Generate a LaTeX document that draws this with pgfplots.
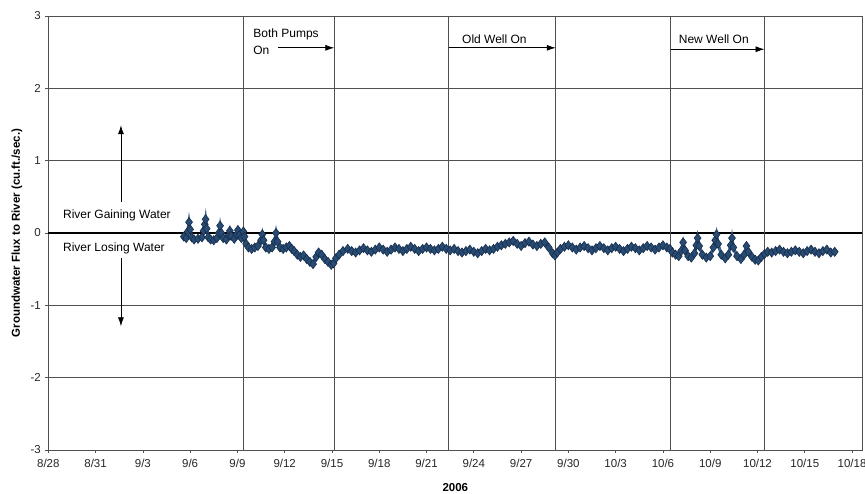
\documentclass[border=0pt]{standalone}
\usepackage{pgfplots}
\pgfplotsset{compat=1.18}
\usepackage{fontspec}
\setmainfont{Liberation Sans}
\usetikzlibrary{arrows.meta}
\definecolor{serfill}{RGB}{40,75,115}
\definecolor{serdraw}{RGB}{22,45,75}
\definecolor{serline}{RGB}{60,95,145}
\definecolor{gridc}{RGB}{80,80,80}
\begin{document}
\begin{tikzpicture}
\path[use as bounding box] (-48.3pt,-44pt) rectangle (816.7pt,450pt);
\begin{axis}[
  at={(0,0)}, anchor=south west,
  scale only axis, width=814pt, height=434pt,
  xmin=0, xmax=51.65, ymin=-3, ymax=3,
  xtick={0,3,...,51},
  xticklabels={8/28,8/31,9/3,9/6,9/9,9/12,9/15,9/18,9/21,9/24,9/27,9/30,10/3,10/6,10/9,10/12,10/15,10/18},
  ytick={-3,-2,-1,1,2,3},
  extra y ticks={0},
  extra y tick style={grid style={black, line width=1.8pt}},
  ymajorgrids, grid style={gridc, line width=0.8pt},
  axis line style={gridc, line width=0.8pt},
  tick style={gridc, line width=0.7pt},
  tick align=outside, major tick length=3pt,
  xtick pos=bottom, ytick pos=left,
  /pgf/number format/assume math mode=true,
  ticklabel style={font=\fontsize{11.5}{13}\selectfont, text=black!85},
  xticklabel style={yshift=-3pt},
  yticklabel style={xshift=-1pt},
  xlabel={2006}, ylabel={Groundwater Flux to River (cu.ft./sec.)},
  xlabel style={font=\bfseries\fontsize{11.5}{13}\selectfont, at={(axis description cs:0.5,-0.0876)}, anchor=center},
  ylabel style={font=\bfseries\fontsize{11.5}{13}\selectfont, at={(axis description cs:-0.0385,0.5)}, anchor=center, rotate=0},
  clip=false,
]
\addplot[color=serline, line width=3pt, mark=diamond*, mark size=4.6pt,
  mark options={fill=serfill, draw=serdraw, line width=0.6pt}] table {
x y
8.6 -0.05
8.75 -0.07
8.85 0.02
8.93 0.15
9.0 0.05
9.1 -0.06
9.25 -0.09
9.5 -0.08
9.75 -0.06
9.85 0.03
9.93 0.12
9.98 0.19
10.05 0.06
10.15 -0.06
10.3 -0.09
10.5 -0.10
10.7 -0.07
10.82 0.0
10.9 0.1
10.98 0.0
11.1 -0.07
11.3 -0.09
11.45 -0.03
11.52 0.03
11.6 -0.04
11.8 -0.08
11.95 -0.02
12.03 0.04
12.12 -0.03
12.25 -0.07
12.38 0.02
12.45 -0.05
12.55 -0.15
12.7 -0.2
12.9 -0.22
13.1 -0.2
13.3 -0.18
13.5 -0.1
13.58 -0.02
13.66 -0.1
13.8 -0.2
14.0 -0.22
14.2 -0.2
14.35 -0.12
14.45 0.0
14.55 -0.12
14.7 -0.2
14.9 -0.22
15.1 -0.2
15.3 -0.18
15.45 -0.22
15.6 -0.25
15.8 -0.3
16.0 -0.33
16.2 -0.31
16.4 -0.36
16.6 -0.40
16.8 -0.43
17.0 -0.33
17.15 -0.27
17.35 -0.3
17.55 -0.36
17.75 -0.40
17.95 -0.44
18.1 -0.42
18.25 -0.35
18.45 -0.3
18.7 -0.25
19.0 -0.22
19.25 -0.25
19.5 -0.27
19.75 -0.24
20.0 -0.21
20.25 -0.24
20.5 -0.26
20.75 -0.23
21.0 -0.20
21.25 -0.23
21.5 -0.26
21.75 -0.23
22.0 -0.20
22.25 -0.22
22.5 -0.25
22.75 -0.22
23.0 -0.19
23.25 -0.22
23.5 -0.25
23.75 -0.22
24.0 -0.20
24.25 -0.22
24.5 -0.24
24.75 -0.22
25.0 -0.19
25.25 -0.22
25.5 -0.24
25.75 -0.22
26.0 -0.25
26.25 -0.27
26.5 -0.25
26.75 -0.23
27.0 -0.26
27.25 -0.28
27.5 -0.25
27.75 -0.22
28.0 -0.24
28.25 -0.22
28.5 -0.19
28.75 -0.17
29.0 -0.15
29.25 -0.13
29.5 -0.11
29.75 -0.15
30.0 -0.18
30.25 -0.14
30.5 -0.12
30.75 -0.16
31.0 -0.18
31.25 -0.15
31.5 -0.13
31.75 -0.2
32.0 -0.28
32.15 -0.31
32.3 -0.27
32.5 -0.22
32.75 -0.19
33.0 -0.17
33.25 -0.2
33.5 -0.23
33.75 -0.2
34.0 -0.18
34.25 -0.21
34.5 -0.24
34.75 -0.21
35.0 -0.18
35.25 -0.21
35.5 -0.24
35.75 -0.21
36.0 -0.19
36.25 -0.22
36.5 -0.25
36.75 -0.22
37.0 -0.19
37.25 -0.21
37.5 -0.24
37.75 -0.21
38.0 -0.18
38.25 -0.2
38.5 -0.23
38.75 -0.2
39.0 -0.17
39.25 -0.2
39.45 -0.22
39.6 -0.27
39.8 -0.3
40.0 -0.32
40.15 -0.25
40.28 -0.13
40.4 -0.24
40.6 -0.32
40.8 -0.34
41.0 -0.28
41.12 -0.17
41.2 -0.07
41.3 -0.18
41.5 -0.3
41.75 -0.34
42.0 -0.32
42.2 -0.2
42.32 -0.1
42.4 -0.02
42.5 -0.15
42.7 -0.3
42.95 -0.35
43.15 -0.3
43.3 -0.17
43.38 -0.07
43.47 -0.2
43.7 -0.32
43.95 -0.36
44.15 -0.3
44.3 -0.18
44.42 -0.26
44.65 -0.33
44.85 -0.37
45.05 -0.38
45.25 -0.33
45.45 -0.29
45.65 -0.26
45.9 -0.27
46.15 -0.25
46.4 -0.23
46.65 -0.26
46.9 -0.28
47.15 -0.26
47.4 -0.24
47.65 -0.26
47.9 -0.28
48.15 -0.25
48.4 -0.23
48.65 -0.26
48.9 -0.28
49.15 -0.25
49.4 -0.23
49.65 -0.27
49.9 -0.26
};
% event lines
\draw[gridc, line width=1pt] (axis cs:12.4,-3) -- (axis cs:12.4,3);
\draw[gridc, line width=1pt] (axis cs:18.15,-3) -- (axis cs:18.15,3);
\draw[gridc, line width=1pt] (axis cs:25.4,-3) -- (axis cs:25.4,3);
\draw[gridc, line width=1pt] (axis cs:32.2,-3) -- (axis cs:32.2,3);
\draw[gridc, line width=1pt] (axis cs:39.5,-3) -- (axis cs:39.5,3);
\draw[gridc, line width=1pt] (axis cs:45.45,-3) -- (axis cs:45.45,3);
% annotations
\node[anchor=west, inner sep=0pt, font=\fontsize{12}{14}\selectfont] at (axis cs:13.0,2.75) {Both Pumps};
\node[anchor=west, inner sep=0pt, font=\fontsize{12}{14}\selectfont] at (axis cs:13.0,2.53) {On};
\draw[black, line width=0.8pt, -{Latex[length=9pt,width=6pt]}] (axis cs:14.6,2.56) -- (axis cs:18.15,2.56);
\node[anchor=west, inner sep=0pt, font=\fontsize{12}{14}\selectfont] at (axis cs:26.25,2.68) {Old Well On};
\draw[black, line width=0.8pt, -{Latex[length=9pt,width=6pt]}] (axis cs:25.4,2.56) -- (axis cs:32.2,2.56);
\node[anchor=west, inner sep=0pt, font=\fontsize{12}{14}\selectfont] at (axis cs:40.0,2.68) {New Well On};
\draw[black, line width=0.8pt, -{Latex[length=9pt,width=6pt]}] (axis cs:39.5,2.54) -- (axis cs:45.45,2.54);
\node[anchor=west, inner sep=0pt, font=\fontsize{12}{14}\selectfont] at (axis cs:0.93,0.25) {River Gaining Water};
\draw[black, line width=0.8pt, -{Latex[length=9pt,width=6pt]}] (axis cs:4.61,0.43) -- (axis cs:4.61,1.49);
\node[anchor=west, inner sep=0pt, font=\fontsize{12}{14}\selectfont] at (axis cs:0.93,-0.21) {River Losing Water};
\draw[black, line width=0.8pt, -{Latex[length=9pt,width=6pt]}] (axis cs:4.61,-0.35) -- (axis cs:4.61,-1.29);
\end{axis}
\end{tikzpicture}
\end{document}
